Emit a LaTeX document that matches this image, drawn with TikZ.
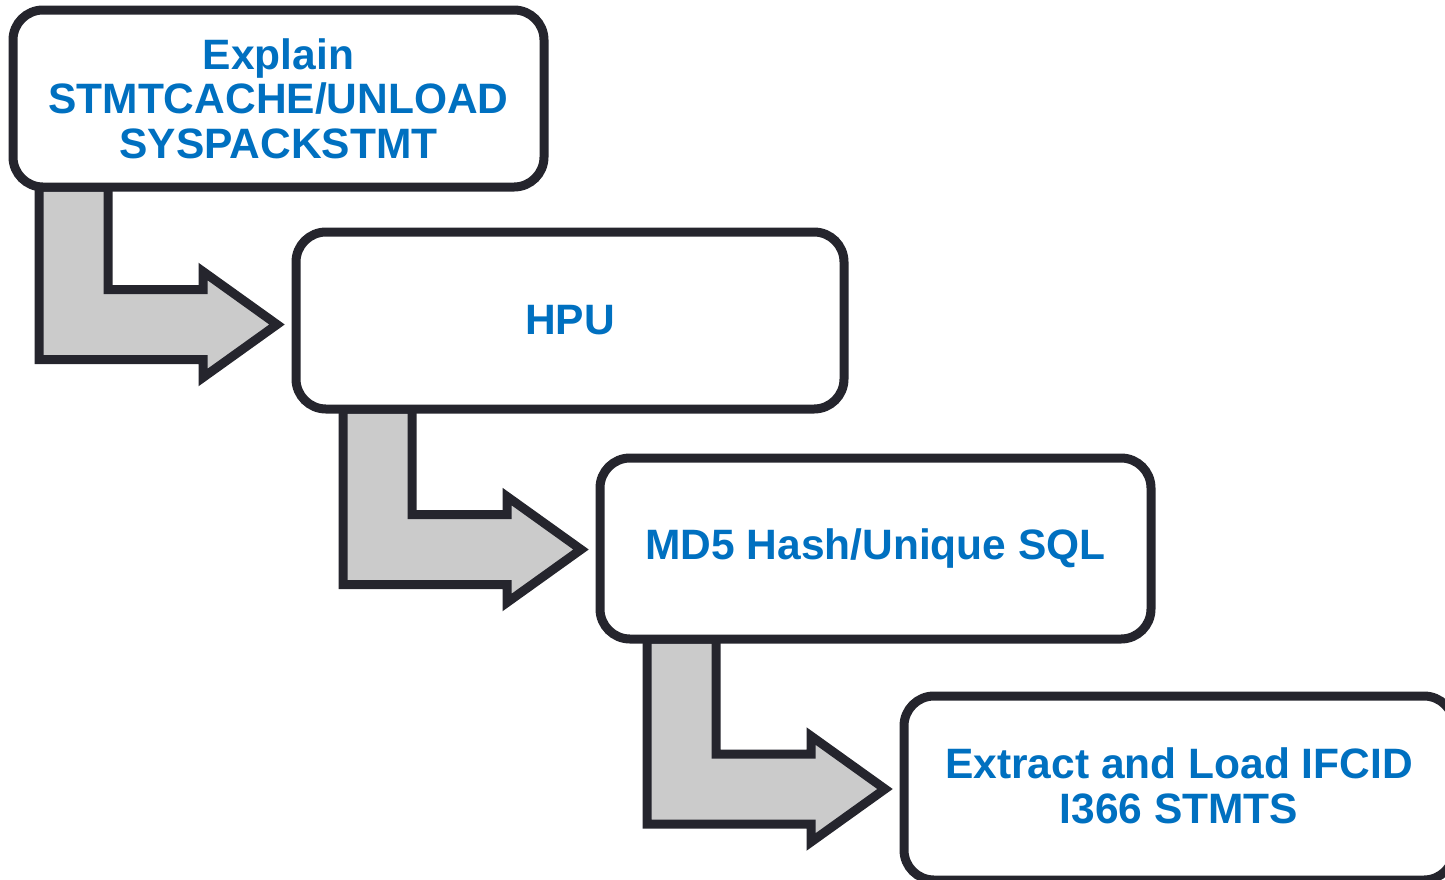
\documentclass[tikz,border=0pt]{standalone}
\usepackage{fontspec}
\setmainfont{Liberation Sans}
\usetikzlibrary{calc}

\definecolor{edge}{HTML}{25252D}
\definecolor{shade}{HTML}{CBCBCB}
\definecolor{label}{HTML}{0070C0}

\tikzset{
  stage/.style={draw=edge, fill=white, line width=9pt, rounded corners=30pt,
    outer sep=0pt, inner sep=0pt, align=center, text=label,
    font=\bfseries\fontsize{42.5}{44.5}\selectfont},
  slot/.style={inner sep=0pt, outer sep=0pt},
  bentarrow/.style={draw=edge, fill=shade, line width=9pt, miter limit=10}
}

% bent block arrow: from below node #1 (stem offset #3 from its left edge)
% to the left side of node #2 (tip lowered by #4), ending a little before it
\newcommand\bentflow[4]{%
  \coordinate (s) at ($(#1.south west)+(#3,0)$);
  \coordinate (t) at ($(#2.west)+(-19,#4)$);
  \filldraw[bentarrow]
    (s) -- ($(s |- t)+(0,35)$) -- ($(t)+(-74,35)$) -- ($(t)+(-74,53)$)
    -- (t) -- ($(t)+(-74,-53)$) -- ($(t)+(-74,-35)$)
    -- ($(s |- t)+(69,-35)$) -- ($(s)+(69,0)$) -- cycle;
}

\begin{document}
\begin{tikzpicture}[x=1pt, y=-1pt]
  \useasboundingbox (0,0) rectangle (1445,879);
  \clip (0,0) rectangle (1445,879);

  % stage positions
  \coordinate (p1) at (278.5,98.5);
  \coordinate (p2) at (570,320.5);
  \coordinate (p3) at (875.5,548.5);
  \coordinate (p4) at (1179,788);

  % empty frames so the arrows can refer to the stages before they are drawn
  \path (p1) node[slot, minimum width=531pt, minimum height=177pt] (a1) {};
  \path (p2) node[slot, minimum width=548pt, minimum height=177pt] (a2) {};
  \path (p3) node[slot, minimum width=551pt, minimum height=181pt] (a3) {};
  \path (p4) node[slot, minimum width=550pt, minimum height=184pt] (a4) {};

  \bentflow{a1}{a2}{26}{4}
  \bentflow{a2}{a3}{47}{1}
  \bentflow{a3}{a4}{47}{1}

  \node[stage, minimum width=531pt, minimum height=177pt] (b1) at (p1)
    {Explain\\STMTCACHE/UNLOAD\\SYSPACKSTMT};
  \node[stage, minimum width=548pt, minimum height=177pt] (b2) at (p2) {HPU};
  \node[stage, minimum width=551pt, minimum height=181pt] (b3) at (p3) {MD5 Hash/Unique SQL};
  \node[stage, minimum width=550pt, minimum height=184pt] (b4) at (p4) {};
  \node[text=label, align=center, font=\bfseries\fontsize{42.5}{44.5}\selectfont]
    (t4) at ($(b4.center)+(0,-2)$) {Extract and Load IFCID\\I366 STMTS};
\end{tikzpicture}
\end{document}
